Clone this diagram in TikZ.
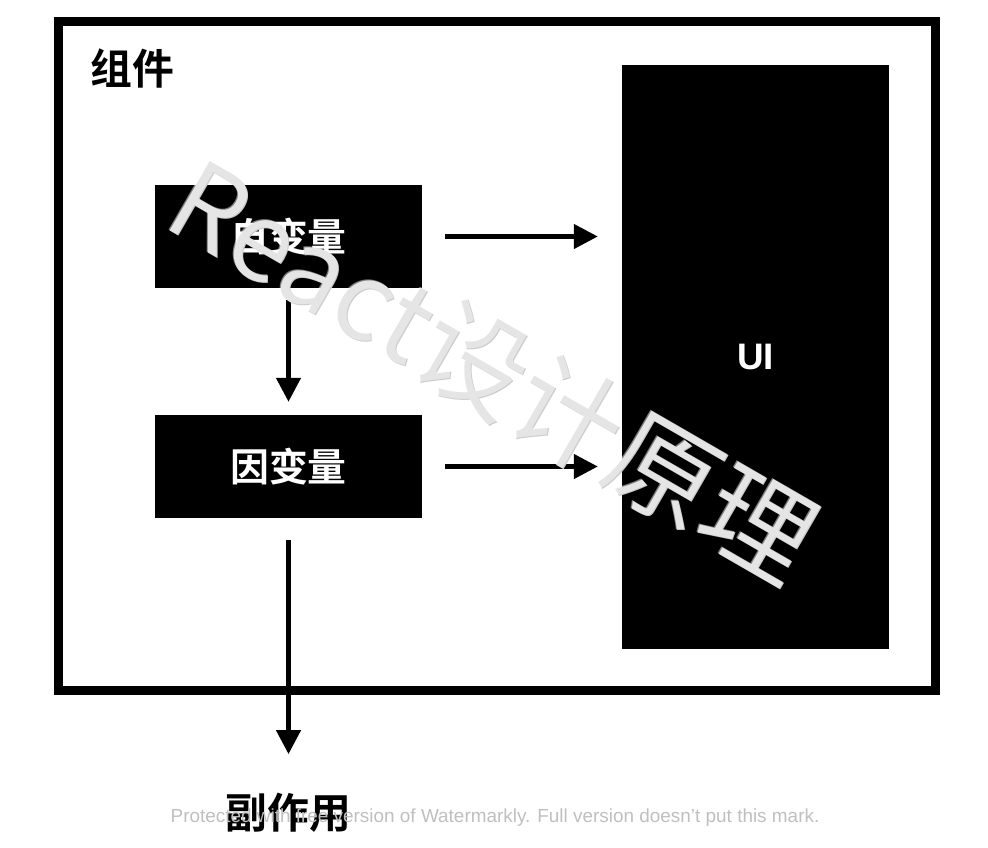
\documentclass[tikz,border=0pt]{standalone}
\usepackage{fontspec}
\setmainfont{Liberation Sans}
\newfontfamily\cjk{Noto Sans CJK SC}[BoldFont={Noto Sans CJK SC Bold}]
\usetikzlibrary{arrows.meta,positioning}

\tikzset{
  varbox/.style={fill=black,text=white,minimum width=267bp,minimum height=103bp,inner sep=0pt,
    font=\cjk\bfseries\fontsize{39}{39}\selectfont},
  arr/.style={-{Triangle[length=24bp,width=24bp]},line width=4.5bp},
  markstyle/.style={rotate=-30,inner sep=0pt,font=\cjk\fontsize{110}{110}\selectfont},
}

\begin{document}
\begin{tikzpicture}[x=1bp,y=-1bp]
	\useasboundingbox (0,0) rectangle (988,848);
	\node (frame) [draw,line width=9bp,minimum width=877bp,minimum height=669bp,inner sep=0pt] at (497,356) {};
	\node (title) [font=\cjk\bfseries\fontsize{42}{42}\selectfont,inner sep=0pt] at (132,68) {组件};
	\node (ui) [fill=black,text=white,minimum width=267bp,minimum height=584bp,inner sep=0pt,
	  font=\bfseries\fontsize{37}{37}\selectfont] at (755.5,357) {UI};
    \node (indep) [varbox] at (288.5,236.5) {自变量};
    \node (dep) [varbox] at (288.5,466.5) {因变量};
    \node (effect) [font=\cjk\bfseries\fontsize{42}{42}\selectfont,inner sep=0pt] at (288.5,813) {副作用};
    % connectors
    \draw [arr,shorten <=23bp,shorten >=24bp] (indep.east) -- (indep.east -| ui.west);
    \draw [arr,shorten <=23bp,shorten >=24bp] (dep.east) -- (dep.east -| ui.west);
    \draw [arr,shorten <=12bp,shorten >=13bp] (indep.south) -- (dep.north);
    \draw [arr,shorten <=22bp,shorten >=39bp] (dep.south) -- (effect.north);
    % watermarks
    \node [markstyle,text=black!20] at (494,371) {React设计原理};
    \node (mark) [markstyle,text=white,opacity=0.5] at (493,370) {React设计原理};
    \node (notice) [text=black!25,font=\fontsize{19}{19}\selectfont,inner sep=0pt] at (495,818)
      {Protected with free version of Watermarkly. Full version doesn't put this mark.};
\end{tikzpicture}
\end{document}
